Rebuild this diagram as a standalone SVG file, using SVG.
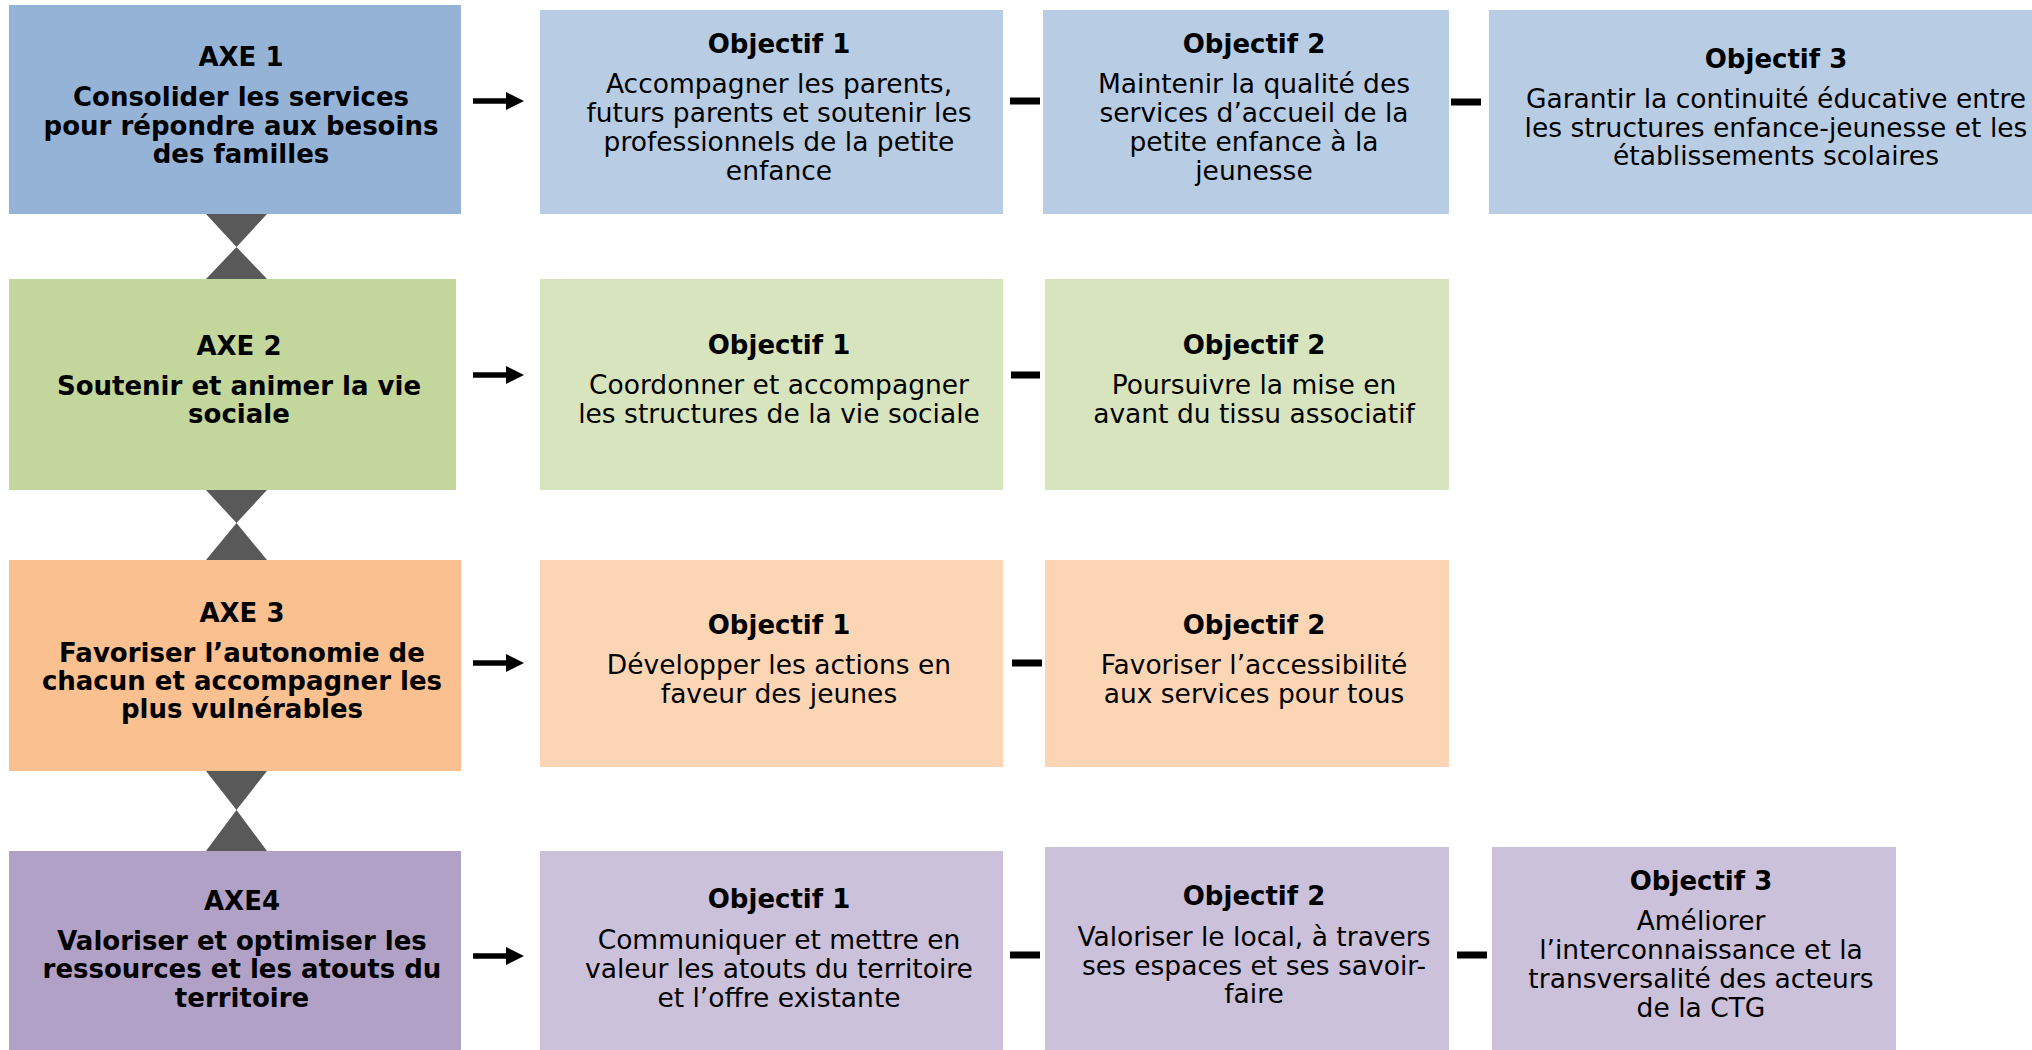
<svg xmlns="http://www.w3.org/2000/svg" width="2032" height="1050" viewBox="0 0 2032 1050">
<style>
text{font-family:"DejaVu Sans",Verdana,"Liberation Sans",sans-serif;fill:#000;text-anchor:middle}
.h{font-weight:bold;font-size:26px}
.t{font-size:26.5px}
.hg{fill:#595959}
.dash{stroke:#000;stroke-width:7}
.arr{stroke:#000;stroke-width:5.5;marker-end:url(#ah)}
.a1{fill:#95b3d7}.o1{fill:#b8cce4}
.a2{fill:#c3d69b}.o2{fill:#d7e4bd}
.a3{fill:#fac090}.o3{fill:#fcd5b5}
.a4{fill:#b2a1c7}.o4{fill:#ccc1da}
</style>
<defs>
<marker id="ah" markerUnits="userSpaceOnUse" markerWidth="18" markerHeight="18" refX="4" refY="9" orient="auto"><path d="M0,0 L18,9 L0,18 Z" fill="#000"/></marker>
</defs>
<g id="axe1"><rect class="a1" x="9" y="5" width="452" height="209"/>
<text class="h" x="241" y="66">AXE 1</text>
<text class="h" x="241" y="106">Consolider les services</text>
<text class="h" x="241" y="135">pour répondre aux besoins</text>
<text class="h" x="241" y="163">des familles</text></g>
<g id="axe1-obj1"><rect class="o1" x="540" y="10" width="463" height="204"/>
<text class="h" x="779" y="53">Objectif 1</text>
<text class="t" x="779" y="93">Accompagner les parents,</text>
<text class="t" x="779" y="122">futurs parents et soutenir les</text>
<text class="t" x="779" y="151">professionnels de la petite</text>
<text class="t" x="779" y="180">enfance</text></g>
<g id="axe1-obj2"><rect class="o1" x="1043" y="10" width="406" height="204"/>
<text class="h" x="1254" y="53">Objectif 2</text>
<text class="t" x="1254" y="93">Maintenir la qualité des</text>
<text class="t" x="1254" y="122">services d’accueil de la</text>
<text class="t" x="1254" y="151">petite enfance à la</text>
<text class="t" x="1254" y="180">jeunesse</text></g>
<g id="axe1-obj3"><rect class="o1" x="1489" y="10" width="543" height="204"/>
<text class="h" x="1776" y="68">Objectif 3</text>
<text class="t" x="1776" y="108">Garantir la continuité éducative entre</text>
<text class="t" x="1776" y="137">les structures enfance-jeunesse et les</text>
<text class="t" x="1776" y="165">établissements scolaires</text></g>

<g id="axe2"><rect class="a2" x="9" y="279" width="447" height="211"/>
<text class="h" x="239" y="355">AXE 2</text>
<text class="h" x="239" y="395">Soutenir et animer la vie</text>
<text class="h" x="239" y="423">sociale</text></g>
<g id="axe2-obj1"><rect class="o2" x="540" y="279" width="463" height="211"/>
<text class="h" x="779" y="354">Objectif 1</text>
<text class="t" x="779" y="394">Coordonner et accompagner</text>
<text class="t" x="779" y="423">les structures de la vie sociale</text></g>
<g id="axe2-obj2"><rect class="o2" x="1045" y="279" width="404" height="211"/>
<text class="h" x="1254" y="354">Objectif 2</text>
<text class="t" x="1254" y="394">Poursuivre la mise en</text>
<text class="t" x="1254" y="423">avant du tissu associatif</text></g>

<g id="axe3"><rect class="a3" x="9" y="560" width="452" height="211"/>
<text class="h" x="242" y="622">AXE 3</text>
<text class="h" x="242" y="662">Favoriser l’autonomie de</text>
<text class="h" x="242" y="690">chacun et accompagner les</text>
<text class="h" x="242" y="718">plus vulnérables</text></g>
<g id="axe3-obj1"><rect class="o3" x="540" y="560" width="463" height="207"/>
<text class="h" x="779" y="634">Objectif 1</text>
<text class="t" x="779" y="674">Développer les actions en</text>
<text class="t" x="779" y="703">faveur des jeunes</text></g>
<g id="axe3-obj2"><rect class="o3" x="1045" y="560" width="404" height="207"/>
<text class="h" x="1254" y="634">Objectif 2</text>
<text class="t" x="1254" y="674">Favoriser l’accessibilité</text>
<text class="t" x="1254" y="703">aux services pour tous</text></g>

<g id="axe4"><rect class="a4" x="9" y="851" width="452" height="199"/>
<text class="h" x="242" y="910">AXE4</text>
<text class="h" x="242" y="950">Valoriser et optimiser les</text>
<text class="h" x="242" y="978">ressources et les atouts du</text>
<text class="h" x="242" y="1007">territoire</text></g>
<g id="axe4-obj1"><rect class="o4" x="540" y="851" width="463" height="199"/>
<text class="h" x="779" y="908">Objectif 1</text>
<text class="t" x="779" y="949">Communiquer et mettre en</text>
<text class="t" x="779" y="978">valeur les atouts du territoire</text>
<text class="t" x="779" y="1007">et l’offre existante</text></g>
<g id="axe4-obj2"><rect class="o4" x="1045" y="847" width="404" height="203"/>
<text class="h" x="1254" y="905">Objectif 2</text>
<text class="t" x="1254" y="946">Valoriser le local, à travers</text>
<text class="t" x="1254" y="975">ses espaces et ses savoir-</text>
<text class="t" x="1254" y="1003">faire</text></g>
<g id="axe4-obj3"><rect class="o4" x="1492" y="847" width="404" height="203"/>
<text class="h" x="1701" y="890">Objectif 3</text>
<text class="t" x="1701" y="930">Améliorer</text>
<text class="t" x="1701" y="959">l’interconnaissance et la</text>
<text class="t" x="1701" y="988">transversalité des acteurs</text>
<text class="t" x="1701" y="1017">de la CTG</text></g>

<g id="connectors">
<path class="hg" d="M206,214 L267,214 L236.5,247 Z M236.5,247 L206,279 L267,279 Z"/>
<path class="hg" d="M206,490 L267,490 L236.5,523 Z M236.5,523 L206,560 L267,560 Z"/>
<path class="hg" d="M206,771 L267,771 L236.5,810 Z M236.5,810 L206,851 L267,851 Z"/>
<line class="arr" x1="473" y1="101" x2="510" y2="101"/>
<line class="arr" x1="473" y1="375" x2="510" y2="375"/>
<line class="arr" x1="473" y1="663" x2="510" y2="663"/>
<line class="arr" x1="473" y1="956" x2="510" y2="956"/>
<line class="dash" x1="1010" y1="101" x2="1040" y2="101"/>
<line class="dash" x1="1451" y1="102" x2="1481" y2="102"/>
<line class="dash" x1="1011" y1="375" x2="1040" y2="375"/>
<line class="dash" x1="1012" y1="663" x2="1042" y2="663"/>
<line class="dash" x1="1010" y1="955" x2="1040" y2="955"/>
<line class="dash" x1="1457" y1="955" x2="1487" y2="955"/>
</g>
</svg>
